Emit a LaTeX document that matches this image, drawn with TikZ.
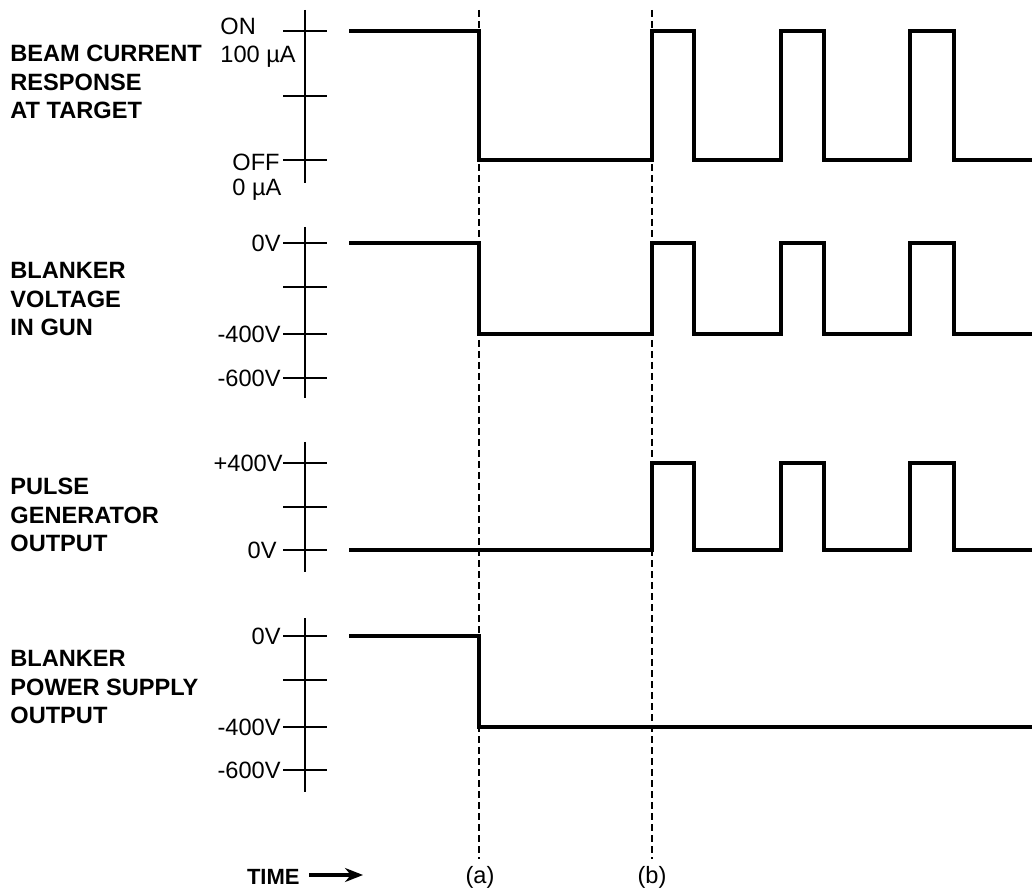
\documentclass[tikz,border=0pt]{standalone}
\usepackage{fontspec}
\setmainfont{Liberation Sans}
\usetikzlibrary{arrows.meta}

\newcommand{\plotfont}{\fontsize{11.8}{14.2}\selectfont}

\tikzset{
  wave/.style={line width=1.8pt, line join=miter},
  axis/.style={line width=0.9pt},
  marker/.style={line width=0.6pt, dash pattern=on 3.5pt off 2pt},
  title/.style={font=\plotfont\bfseries, align=left, anchor=west, inner sep=0pt},
  level/.style={anchor=east, inner sep=0pt},
}

\begin{document}
\begin{tikzpicture}[x=0.5pt, y=-0.5pt, font=\plotfont, >=Stealth]
    \useasboundingbox (0,0) rectangle (1032,892);

    % Time markers
    \node (ma) at (480,877) {(a)};
    \node (mb) at (652,877) {(b)};
    \coordinate (ta) at (479,10);
    \coordinate (tb) at (652,10);
    \draw[marker] (ta) -- (ta |- ma.north);
    \draw[marker] (tb) -- (tb |- mb.north);

    \node[font=\fontsize{11}{13}\selectfont\bfseries, anchor=east, inner sep=0pt] (time) at (300,877) {TIME};
    \coordinate (tend) at (363,875);
    \draw[-{Stealth[length=9pt, width=7pt]}, line width=1.7pt] ([xshift=4.5pt]time.east |- tend) -- (tend);

    % Beam current
    \node[title] (beam) at (10,82) {BEAM CURRENT\\RESPONSE\\AT TARGET};
    \draw[axis] (305,10) -- (305,183);
    \foreach \y in {31,96,160} \draw[axis] (283,\y) -- (327,\y);
    \node[anchor=west, inner sep=0pt] (on) at (220,26) {ON};
    \node[anchor=west, inner sep=0pt] (ion) at (220,57) {100 µA};
    \node[level] (off) at (280,162) {OFF};
    \node[anchor=west, inner sep=0pt] (ioff) at (232,190) {0 µA};
    \draw[wave] (349,31) -- (479,31) -- (479,160) -- (652,160) -- (652,31)
        -- (694,31) -- (694,160) -- (781,160) -- (781,31) -- (824,31)
        -- (824,160) -- (910,160) -- (910,31) -- (954,31) -- (954,160) -- (1032,160);

    % Blanker voltage
    \node[title] (gun) at (10,299) {BLANKER\\VOLTAGE\\IN GUN};
    \draw[axis] (305,227) -- (305,398);
    \foreach \y in {243,287,334,378} \draw[axis] (283,\y) -- (327,\y);
    \node[level] (gzero) at (281,243) {0V};
    \node[level] (gfour) at (281,334) {-400V};
    \node[level] (gsix) at (281,378) {-600V};
    \draw[wave] (349,243) -- (479,243) -- (479,334) -- (652,334) -- (652,243)
        -- (694,243) -- (694,334) -- (781,334) -- (781,243) -- (824,243)
        -- (824,334) -- (910,334) -- (910,243) -- (954,243) -- (954,334) -- (1032,334);

    % Pulse generator
    \node[title] (pulse) at (10,515) {PULSE\\GENERATOR\\OUTPUT};
    \draw[axis] (305,442) -- (305,572);
    \foreach \y in {463,507,550} \draw[axis] (283,\y) -- (327,\y);
    \node[level] (ptop) at (283,463) {+400V};
    \node[level] (pzero) at (277,550) {0V};
    \draw[wave] (349,550) -- (652,550) -- (652,463) -- (694,463) -- (694,550)
        -- (781,550) -- (781,463) -- (824,463) -- (824,550) -- (910,550)
        -- (910,463) -- (954,463) -- (954,550) -- (1032,550);

    % Power supply
    \node[title] (supply) at (10,687) {BLANKER\\POWER SUPPLY\\OUTPUT};
    \draw[axis] (305,618) -- (305,792);
    \foreach \y in {636,680,727,770} \draw[axis] (283,\y) -- (327,\y);
    \node[level] (szero) at (281,636) {0V};
    \node[level] (sfour) at (281,727) {-400V};
    \node[level] (ssix) at (281,770) {-600V};
    \draw[wave] (349,636) -- (479,636) -- (479,727) -- (1032,727);
\end{tikzpicture}
\end{document}
